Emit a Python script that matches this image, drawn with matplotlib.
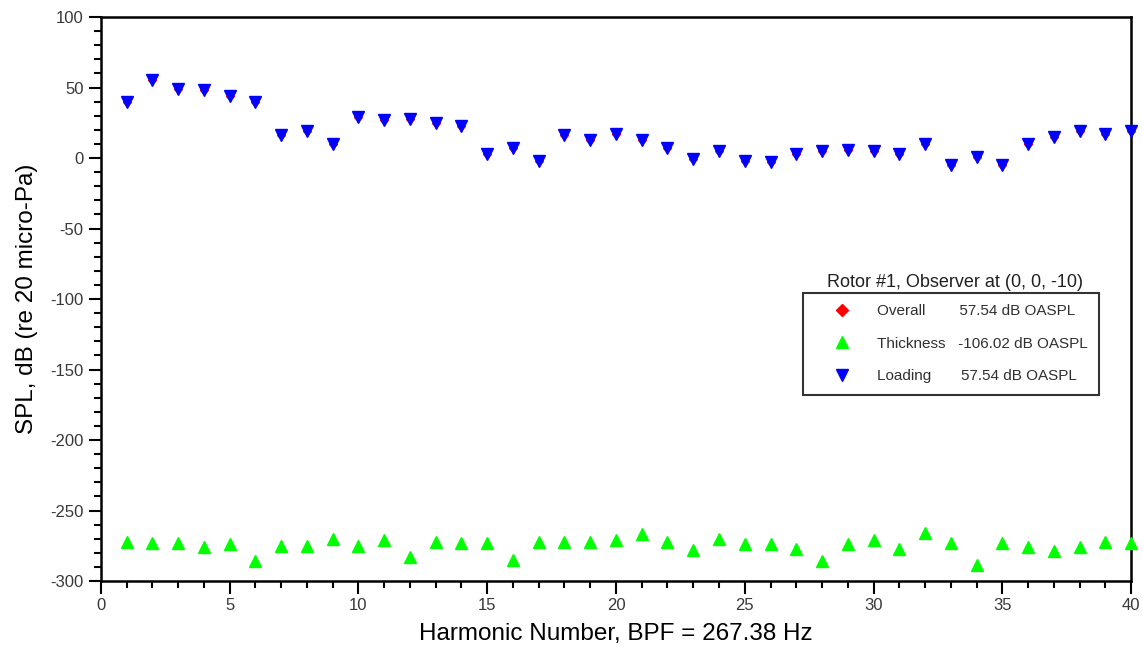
import numpy as np
import matplotlib.pyplot as plt
from matplotlib.lines import Line2D
from matplotlib.ticker import MultipleLocator

plt.rcParams['font.family'] = ['Liberation Sans', 'DejaVu Sans']
plt.rcParams['axes.unicode_minus'] = False

harmonic = list(range(1, 41))
loading = [40, 55, 49, 48, 44, 40, 16, 19, 10, 29,
           27, 28, 25, 23, 3, 7, -2, 16, 13, 17,
           13, 7, -1, 5, -2, -3, 3, 5, 6, 5,
           3, 10, -5, 1, -5, 10, 15, 19, 17, 19]
overall = loading[:]
thickness = [-272, -273, -273, -276, -274, -286, -275, -275, -270, -275,
             -271, -283, -272, -273, -273, -285, -272, -272, -272, -271,
             -267, -272, -278, -270, -274, -274, -277, -286, -274, -271,
             -277, -266, -273, -289, -273, -276, -279, -276, -272, -273]

fig = plt.figure(figsize=(11.42, 6.47), dpi=100)
ax = fig.add_axes([0.0884, 0.102, 0.902, 0.8717])

ax.plot(harmonic, overall, 'D', color='red', ms=4.5, ls='none', clip_on=False, zorder=3)
ax.plot(harmonic, thickness, '^', color='#00ff00', ms=9, ls='none', clip_on=False, zorder=3)
ax.plot(harmonic, loading, 'v', color='blue', ms=9, ls='none', clip_on=False, zorder=4)

ax.set_xlim(0, 40)
ax.set_ylim(-300, 100)
ax.xaxis.set_major_locator(MultipleLocator(5))
ax.xaxis.set_minor_locator(MultipleLocator(1))
ax.yaxis.set_major_locator(MultipleLocator(50))
ax.yaxis.set_minor_locator(MultipleLocator(10))
ax.tick_params(which='major', direction='out', length=9, width=1.5, labelsize=12,
               labelcolor='#383838')
ax.tick_params(which='minor', direction='out', length=5, width=1.5)
for s in ax.spines.values():
    s.set_linewidth(1.8)

ax.set_xlabel('Harmonic Number, BPF = 267.38 Hz', fontsize=17.5, labelpad=7)
ax.set_ylabel('SPL, dB (re 20 micro-Pa)', fontsize=17.5, va='center')
ax.yaxis.set_label_coords(-0.072, 0.5)

handles = [Line2D([], [], marker='D', color='red', ls='none', ms=6),
           Line2D([], [], marker='^', color='#00ff00', ls='none', ms=9),
           Line2D([], [], marker='v', color='blue', ls='none', ms=9)]
labels = ['Overall        57.54 dB OASPL',
          'Thickness   -106.02 dB OASPL',
          'Loading       57.54 dB OASPL']
leg = ax.legend(handles, labels, loc='upper left', bbox_to_anchor=(0.6816, 0.5106),
                fontsize=11, frameon=True, fancybox=False, edgecolor='black',
                borderpad=0.75, labelspacing=1.2, handlelength=3.6, handletextpad=0.5,
                borderaxespad=0)
leg.get_frame().set_linewidth(1.5)
for t in leg.get_texts():
    t.set_color('#303030')
ax.text(0.829, 0.530, 'Rotor #1, Observer at (0, 0, -10)', transform=ax.transAxes,
        ha='center', va='center', fontsize=13, color='#202020')

fig.savefig('out.png', dpi=100)
